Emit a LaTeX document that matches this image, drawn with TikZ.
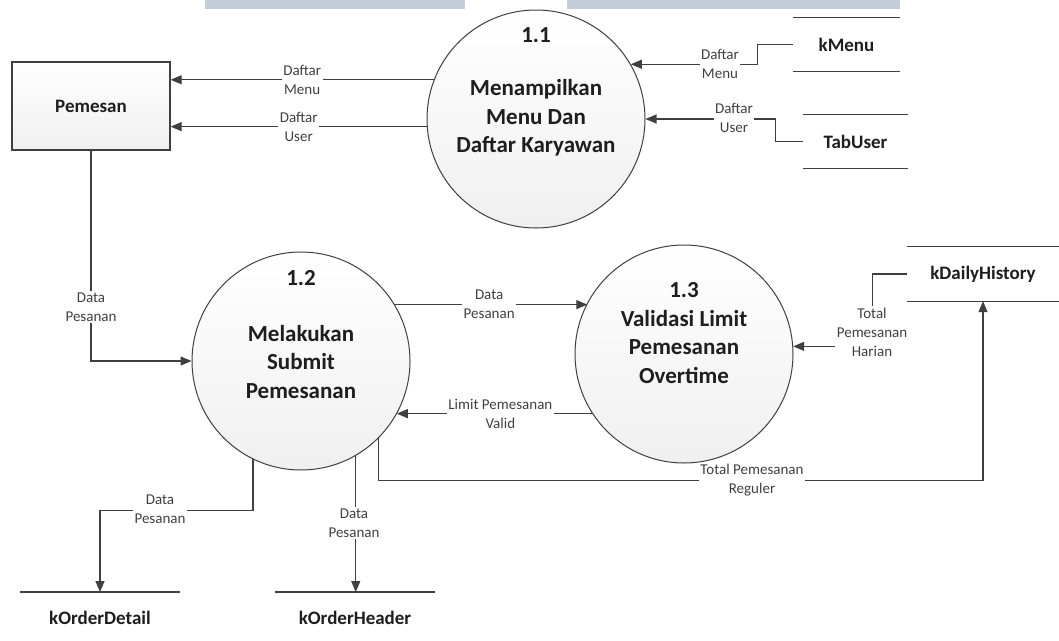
\documentclass[tikz,border=0pt]{standalone}
\usepackage{fontspec}
\setmainfont{Carlito}
\usetikzlibrary{arrows.meta}

\definecolor{ink}{HTML}{3F3F3F}
\definecolor{txt}{HTML}{1E1E1E}
\definecolor{lbl}{HTML}{404040}
\definecolor{band}{HTML}{C3CEDA}

\tikzset{
  process/.style={circle, draw=ink, line width=1pt, minimum size=218pt, inner sep=0pt,
    top color=white, bottom color=black!6},
  ptitle/.style={font=\fontsize{23}{28.5}\selectfont\bfseries, text=txt, align=center},
  entity/.style={draw=ink, line width=1.2pt, minimum width=158pt, minimum height=88pt,
    top color=white, bottom color=black!6, font=\fontsize{19}{23}\selectfont\bfseries, text=txt},
  sname/.style={font=\fontsize{19}{23}\selectfont\bfseries, text=txt},
  store/.style n args={2}{minimum width=#1, minimum height=#2, inner sep=0pt, sname},
  storeline/.style={draw=ink, line width=1.2pt},
  flow/.style={draw=ink, line width=1.2pt, -{Triangle[length=11pt,width=9pt]}},
  lab/.style={fill=white, inner sep=1.5pt, font=\fontsize{15}{19}\selectfont, text=lbl, align=center},
  header/.style={fill=band, draw=none, inner sep=0pt, minimum height=9pt},
}

\begin{document}
\begin{tikzpicture}[x=1pt,y=-1pt]
  \useasboundingbox (0,0) rectangle (1059,640);
  \fill[white] (0,0) rectangle (1059,640);

  % page header bands
  \node[header, minimum width=260pt] (hb1) at (335,4.5) {};
  \node[header, minimum width=333pt] (hb2) at (733.5,4.5) {};

  % external entity
  \node[entity] (pem) at (91,106) {Pemesan};

  % processes
  \node[process] (p11) at (536,119) {};
  \node[ptitle] (n11) at (536,35) {1.1};
  \node[ptitle] (t11) at (536,118) {Menampilkan\\Menu Dan\\Daftar Karyawan};

  \node[process] (p12) at (301,361) {};
  \node[ptitle] (n12) at (301,278) {1.2};
  \node[ptitle] (t12) at (301,362) {Melakukan\\Submit\\Pemesanan};

  \node[process] (p13) at (684,354) {};
  \node[ptitle] (n13) at (684,290) {1.3};
  \node[ptitle] (t13) at (684,347) {Validasi Limit\\Pemesanan\\Overtime};

  % data stores
  \node[store={107pt}{53pt}] (kmenu) at (846.5,44.5) {kMenu};
  \node[store={105pt}{53pt}] (tabuser) at (855.5,141.5) {TabUser};
  \node[store={152pt}{54pt}] (kdh) at (983,274) {kDailyHistory};
  \node[store={160pt}{0pt}] (kod) at (100,592) {};
  \node[sname] (kodname) at (100,618) {kOrderDetail};
  \node[store={160pt}{0pt}] (koh) at (355,592) {};
  \node[sname] (kohname) at (355,618) {kOrderHeader};

  \foreach \s in {kmenu,tabuser,kdh} {
    \draw[storeline] (\s.north west) -- (\s.north east);
    \draw[storeline] (\s.south west) -- (\s.south east);
  }
  \draw[storeline] (kod.west) -- (kod.east);
  \draw[storeline] (koh.west) -- (koh.east);

  % flows around process 1.1
  \draw[flow] (p11.159) -- node[lab] {Daftar\\Menu} (p11.159 -| pem.east);
  \draw[flow] (p11.184.7) -- node[lab] {Daftar\\User} (p11.184.7 -| pem.east);
  \draw[flow] (kmenu.west) -- ++(-35,0) |- (p11.30.3);
  \node[lab] at (720,64) {Daftar\\Menu};
  \draw[flow] (tabuser.west) -- ++(-27,0) |- (p11.0.5);
  \node[lab] at (734,118) {Daftar\\User};

  % flows of process 1.2 and 1.3
  \draw[flow] (pem.south) |- (p12.west);
  \node[lab] at (91,307) {Data\\Pesanan};
  \draw[flow] (p12.31.5) -- node[lab, pos=0.49] {Data\\Pesanan} (p12.31.5 -| p13.152.7);
  \draw[flow] (p13.213.4) -- node[lab, pos=0.47] {Limit Pemesanan\\Valid} (p13.213.4 -| p12.-29.1);
  \draw[flow] (kdh.west) -- ++(-34,0) |- (p13.4.7);
  \node[lab] at (872,332) {Total\\Pemesanan\\Harian};
  \draw[flow] (p12.-45.8) -- ++(0,42) -| (kdh.south);
  \node[lab] at (752,480) {Total Pemesanan\\Reguler};
  \draw[flow] (p12.-116.7) -- ++(0,51) -| (kod.center);
  \node[lab] at (160,509) {Data\\Pesanan};
  \draw[flow] (p12.-60.9) -- (p12.-60.9 |- koh.center);
  \node[lab] at (354,523) {Data\\Pesanan};
\end{tikzpicture}
\end{document}
